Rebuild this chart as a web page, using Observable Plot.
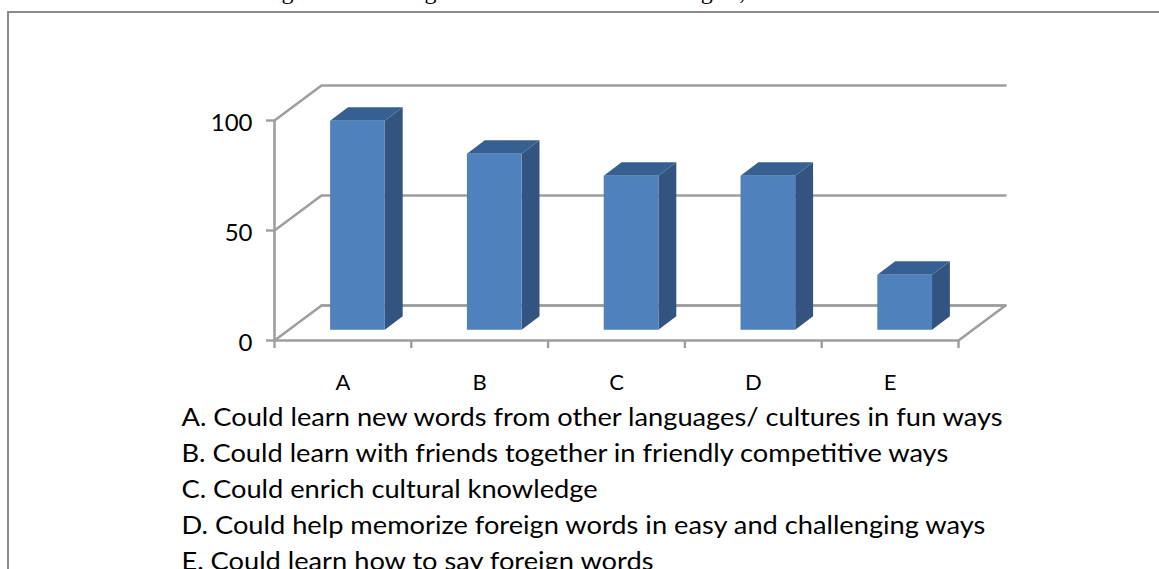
<!DOCTYPE html>
<html>
<head>
<meta charset="utf-8">
<script src="https://cdn.jsdelivr.net/npm/d3@7"></script>
<script src="https://cdn.jsdelivr.net/npm/@observablehq/plot@0.6"></script>
<style>
html,body{margin:0;padding:0;background:#fff;overflow:hidden}
#page{position:relative;width:1159px;height:569px;overflow:hidden}
#frame{position:absolute;left:7px;top:11px;right:-5px;bottom:-5px;border:2px solid #8c8c8c}
svg{position:absolute;left:0;top:0}
</style>
</head>
<body>
<div id="page"><div id="frame"></div></div>
<script>
const categories = ["A","B","C","D","E"];
const values = [95,80,70,70,25];
const yTicks = [0,50,100];
const xTicks = [0,1,2,3,4,5];
const legend = [
 "A. Could learn new words from other languages/ cultures in fun ways",
 "B. Could learn with friends together in friendly competitive ways",
 "C. Could enrich cultural knowledge",
 "D. Could help memorize foreign words in easy and challenging ways",
 "E. Could learn how to say foreign words"
];
const clippedGlyphs = ["g","g","g",","];
const clippedAt = [0.095,1.14,3.16,3.42];
const FONT = "Lato, Carlito, sans-serif";
const GRID = "#9e9e9e", FRONT = "#4f81bd", SIDE = "#32547e", TOP = "#376092";
// oblique projection: depth d in 0..1 shifts x and y in data units
const DX = 47/136.8, DY = 35/2.2;
const P = (x,v,d) => ({x: x + d*DX, y: v + d*DY});
const D1 = 0.31, D2 = 0.69, BW = 0.4;
const grid = [];
yTicks.forEach(v => [[0,0],[0,1],[5,1]].forEach(([x,d]) => grid.push({...P(x,v,d), z:"g"+v})));
[[5,0],[5,1],[0,1]].forEach(([x,d]) => grid.push({...P(x,0,d), z:"floor"}));
[[0,0],[0,100]].forEach(([x,v]) => grid.push({...P(x,v,0), z:"axis"}));
[[0,0],[5,0]].forEach(([x,v]) => grid.push({...P(x,v,0), z:"base"}));
const faces = [];
values.forEach((v,i) => {
  const l = i + 0.5 - BW/2, r = i + 0.5 + BW/2;
  const poly = (name, fill, pts) => pts.forEach(([x,y,d]) => faces.push({...P(x,y,d), z:name+i, fill}));
  poly("side", SIDE, [[r,0,D1],[r,0,D2],[r,v,D2],[r,v,D1]]);
  poly("top", TOP, [[l,v,D1],[r,v,D1],[r,v,D2],[l,v,D2]]);
  poly("front", FRONT, [[l,0,D1],[r,0,D1],[r,v,D1],[l,v,D1]]);
});
const catLabels = categories.map((c,i) => ({c, x:i+0.5}));
const chart = Plot.plot({
  width:1159, height:569,
  marginLeft:274, marginRight:201, marginTop:120, marginBottom:229,
  style:{background:"transparent", fontFamily:FONT, color:"#000"},
  x:{domain:[0,5], range:[274,958], axis:null},
  y:{domain:[0,100], range:[340,120], axis:null},
  marks:[
    Plot.line(grid, {x:"x", y:"y", z:"z", stroke:GRID, strokeWidth:2.6, curve:"linear"}),
    Plot.axisY({ticks:yTicks, tickSize:8, tickPadding:14, stroke:GRID, strokeWidth:2.4, fontSize:24, fill:"#000", label:null, tickFormat:d=>String(d), strokeOpacity:1, textStroke:"none"}),
    Plot.axisX({ticks:xTicks, tickSize:8, stroke:GRID, strokeWidth:2.4, tickFormat:()=>"", label:null, strokeOpacity:1}),
    Plot.line(faces, {x:"x", y:"y", z:"z", fill:"fill", stroke:"none"}),
    Plot.text(catLabels, {x:"x", y:0, text:"c", dy:42, fontSize:22, fill:"#000", lineAnchor:"middle"}),
    Plot.text([legend.join("\n")], {x:0, y:0, dx:-93, dy:60, fontSize:25, lineHeight:1.44, fill:"#000", textAnchor:"start", lineAnchor:"top", className:"legendlines"}),
    Plot.text(clippedGlyphs, {x:(d,i)=>clippedAt[i], y:0, dy:-342, text:d=>d, fontFamily:"Liberation Serif", fontSize:24, fill:"#000", lineAnchor:"bottom"})
  ]
});
document.getElementById("page").appendChild(chart);
// the reference's legend type is stretched sideways
d3.select(chart).selectAll(".legendlines text").attr("transform", function(){
  return (this.getAttribute("transform")||"") + " scale(1.09,1)";
});
// tick labels sit slightly below their ticks in the reference
d3.select(chart).selectAll("g[aria-label='y-axis tick label'] text").attr("dy","3");
</script>
</body>
</html>
